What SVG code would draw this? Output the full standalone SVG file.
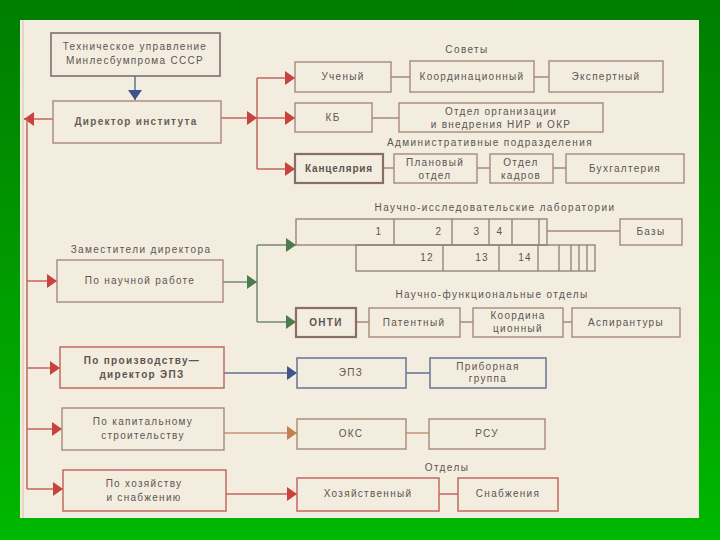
<svg xmlns="http://www.w3.org/2000/svg" width="720" height="540" viewBox="0 0 720 540">
<defs>
<linearGradient id="bg" x1="0" y1="0" x2="0" y2="1">
<stop offset="0" stop-color="#007d00"/>
<stop offset="1" stop-color="#00b800"/>
</linearGradient>
<marker id="ar" markerUnits="userSpaceOnUse" markerWidth="12" markerHeight="14" refX="10" refY="7" orient="auto"><path d="M0,0 L10,7 L0,14 Z" fill="#c8423e"/></marker>
<marker id="ag" markerUnits="userSpaceOnUse" markerWidth="12" markerHeight="14" refX="10" refY="7" orient="auto"><path d="M0,0 L10,7 L0,14 Z" fill="#4e7a4e"/></marker>
<marker id="ab" markerUnits="userSpaceOnUse" markerWidth="12" markerHeight="14" refX="10" refY="7" orient="auto"><path d="M0,0 L10,7 L0,14 Z" fill="#3f5489"/></marker>
<marker id="ao" markerUnits="userSpaceOnUse" markerWidth="12" markerHeight="14" refX="10" refY="7" orient="auto"><path d="M0,0 L10,7 L0,14 Z" fill="#c4804e"/></marker>
</defs>
<style>
.box{fill:none;stroke:#a8887c;stroke-width:1.4}
.bb{fill:none;stroke:#8a6e66;stroke-width:2.2}
.bt{fill:none;stroke:#7c7070;stroke-width:1.6}
.bl{fill:none;stroke:#6e7c98;stroke-width:1.6}
.rd{fill:none;stroke:#c06a62;stroke-width:1.5}
.t{font-family:"Liberation Sans",Arial,sans-serif;font-size:10px;fill:#5e5450;letter-spacing:1.3px;text-anchor:middle}
.tb{font-weight:bold}
.lbl{font-family:"Liberation Sans",Arial,sans-serif;font-size:10px;fill:#5e5450;letter-spacing:1.4px;text-anchor:middle}
.cr{fill:none;stroke:#c4645c;stroke-width:1.5}
.cg{fill:none;stroke:#70887a;stroke-width:1.5}
.cb{fill:none;stroke:#5e7096;stroke-width:1.5}
.co{fill:none;stroke:#c8927a;stroke-width:1.5}
.cn{fill:none;stroke:#a8887c;stroke-width:1.5}
.lab{fill:none;stroke:#8c7e76;stroke-width:1.3}
</style>
<rect x="0" y="0" width="720" height="540" fill="url(#bg)"/>
<rect x="20" y="20" width="679" height="498" fill="#f3ede0"/>
<line x1="23" y1="20" x2="23" y2="518" stroke="#e2d6c6" stroke-width="2"/>

<g id="labels">
<text class="lbl" x="467" y="53">Советы</text>
<text class="lbl" x="490" y="146">Административные подразделения</text>
<text class="lbl" x="495" y="211">Научно-исследовательские лаборатории</text>
<text class="lbl" x="141" y="253">Заместители директора</text>
<text class="lbl" x="492" y="298">Научно-функциональные отделы</text>
<text class="lbl" x="447" y="471">Отделы</text>
</g>

<g id="connectors">
<path class="cb" d="M135,76 V100" marker-end="url(#ab)"/>
<path class="cr" d="M53,119 H24" marker-end="url(#ar)"/>
<path class="cr" d="M27,119 V489"/>
<path class="cr" d="M27,281 H57" marker-end="url(#ar)"/>
<path class="cr" d="M27,368 H60" marker-end="url(#ar)"/>
<path class="cr" d="M27,429 H62" marker-end="url(#ar)"/>
<path class="cr" d="M27,489 H63" marker-end="url(#ar)"/>
<path class="cr" d="M221,118 H257" marker-end="url(#ar)"/>
<path class="cr" d="M257,78 V169"/>
<path class="cr" d="M257,78 H295" marker-end="url(#ar)"/>
<path class="cr" d="M257,118 H295" marker-end="url(#ar)"/>
<path class="cr" d="M257,169 H295" marker-end="url(#ar)"/>
<path class="cn" d="M391,77 H410 M534,77 H549 M372,118 H399 M383,168 H394 M477,168 H490 M553,168 H566"/>
<path class="cg" d="M223,282 H257" marker-end="url(#ag)"/>
<path class="cg" d="M257,245 V322"/>
<path class="cg" d="M257,245 H296" marker-end="url(#ag)"/>
<path class="cg" d="M257,322 H296" marker-end="url(#ag)"/>
<path class="cn" d="M547,231 H620 M356,322 H369 M460,322 H473 M563,322 H572"/>
<path class="cb" d="M224,373 H297" marker-end="url(#ab)"/>
<path class="cb" d="M406,373 H430"/>
<path class="co" d="M224,433 H297" marker-end="url(#ao)"/>
<path class="co" d="M406,433 H429"/>
<path class="cr" d="M226,494 H297" marker-end="url(#ar)"/>
<path class="cr" d="M439,494 H458"/>
</g>

<g id="n-tech"><rect class="bt" x="51" y="33" width="169" height="43"/><text class="t" x="135" y="50">Техническое управление</text><text class="t" x="135" y="64">Минлесбумпрома СССР</text></g>
<g id="n-director"><rect class="box" x="53" y="101" width="168" height="42"/><text class="t tb" x="136" y="125" style="fill:#6a5e58">Директор института</text></g>

<g id="n-uchenyi"><rect class="box" x="295" y="62" width="96" height="30"/><text class="t" x="343" y="80">Ученый</text></g>
<g id="n-koord"><rect class="box" x="410" y="61" width="124" height="31"/><text class="t" x="472" y="80">Координационный</text></g>
<g id="n-ekspert"><rect class="box" x="549" y="61" width="114" height="31"/><text class="t" x="606" y="80">Экспертный</text></g>
<g id="n-kb"><rect class="box" x="295" y="103" width="77" height="29"/><text class="t" x="333" y="121">КБ</text></g>
<g id="n-otdel-org"><rect class="box" x="399" y="103" width="204" height="29"/><text class="t" x="501" y="115">Отдел организации</text><text class="t" x="501" y="128">и внедрения НИР и ОКР</text></g>
<g id="n-kanc"><rect class="bb" x="295" y="154" width="88" height="29"/><text class="t tb" x="339" y="172" style="letter-spacing:0.8px">Канцелярия</text></g>
<g id="n-plan"><rect class="box" x="394" y="154" width="83" height="29"/><text class="t" x="435" y="166">Плановый</text><text class="t" x="435" y="179">отдел</text></g>
<g id="n-kadry"><rect class="box" x="490" y="154" width="63" height="29"/><text class="t" x="521" y="166">Отдел</text><text class="t" x="521" y="179">кадров</text></g>
<g id="n-buh"><rect class="box" x="566" y="154" width="118" height="29"/><text class="t" x="625" y="172">Бухгалтерия</text></g>

<g id="n-labs">
<rect class="lab" x="296" y="219" width="251" height="26"/>
<path class="lab" d="M394,219 V245 M452,219 V245 M489,219 V245 M512,219 V245 M539,219 V245"/>
<rect class="lab" x="356" y="245" width="239" height="26"/>
<path class="lab" d="M443,245 V271 M499,245 V271 M538,245 V271 M559,245 V271 M571,245 V271 M579,245 V271 M587,245 V271"/>
<text class="t" x="379" y="235">1</text><text class="t" x="439" y="235">2</text><text class="t" x="477" y="235">3</text><text class="t" x="500" y="235">4</text>
<text class="t" x="427" y="261">12</text><text class="t" x="482" y="261">13</text><text class="t" x="525" y="261">14</text>
</g>
<g id="n-bazy"><rect class="box" x="620" y="219" width="62" height="26"/><text class="t" x="651" y="235">Базы</text></g>

<g id="n-nauch"><rect class="box" x="57" y="260" width="166" height="42"/><text class="t" x="140" y="284">По научной работе</text></g>
<g id="n-onti"><rect class="bb" x="296" y="308" width="60" height="29"/><text class="t tb" x="326" y="326">ОНТИ</text></g>
<g id="n-patent"><rect class="box" x="369" y="308" width="91" height="29"/><text class="t" x="414" y="326">Патентный</text></g>
<g id="n-koord2"><rect class="box" x="473" y="308" width="90" height="29"/><text class="t" x="518" y="319">Координа</text><text class="t" x="518" y="332">ционный</text></g>
<g id="n-aspir"><rect class="box" x="572" y="308" width="108" height="29"/><text class="t" x="626" y="326">Аспирантуры</text></g>

<g id="n-proizv"><rect class="rd" x="60" y="347" width="164" height="41"/><text class="t tb" x="142" y="364">По производству—</text><text class="t tb" x="142" y="378">директор ЭПЗ</text></g>
<g id="n-epz"><rect class="bl" x="297" y="358" width="109" height="30"/><text class="t" x="351" y="376">ЭПЗ</text></g>
<g id="n-pribor"><rect class="bl" x="430" y="358" width="116" height="30"/><text class="t" x="488" y="370">Приборная</text><text class="t" x="488" y="382">группа</text></g>

<g id="n-kapstroi"><rect class="box" x="62" y="408" width="162" height="42"/><text class="t" x="143" y="425">По капитальному</text><text class="t" x="143" y="439">строительству</text></g>
<g id="n-oks"><rect class="box" x="297" y="419" width="109" height="30"/><text class="t" x="351" y="437">ОКС</text></g>
<g id="n-rsu"><rect class="box" x="429" y="419" width="116" height="30"/><text class="t" x="487" y="437">РСУ</text></g>

<g id="n-hoz"><rect class="rd" x="63" y="470" width="163" height="41"/><text class="t" x="144" y="487">По хозяйству</text><text class="t" x="144" y="501">и снабжению</text></g>
<g id="n-hozotd"><rect class="rd" x="297" y="478" width="142" height="33"/><text class="t" x="368" y="497">Хозяйственный</text></g>
<g id="n-snab"><rect class="rd" x="458" y="478" width="100" height="33"/><text class="t" x="508" y="497">Снабжения</text></g>
</svg>
